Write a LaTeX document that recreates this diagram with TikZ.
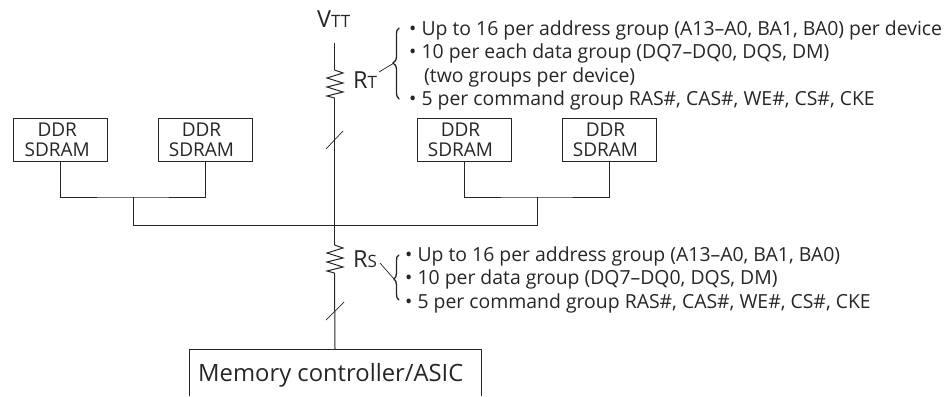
\documentclass[tikz,border=0pt]{standalone}
\usepackage{fontspec}
\setmainfont{Open Sans}
\usepackage{xcolor}
\usetikzlibrary{calc}
\tikzset{
  wire/.style={draw=black!85,line width=1pt},
  memline/.style={wire,line join=round},
  brace/.style={draw=black!85,line width=1.3pt,line cap=round},
  ddrbox/.style={draw=black!85,line width=1pt,minimum width=94pt,minimum height=43pt,inner sep=0pt,align=center,font=\fontsize{19}{20}\selectfont,text=black!85},
  noteline/.style={anchor=base west,inner sep=0pt,font=\fontsize{19.4}{21}\selectfont,text=black!85},
  reslabel/.style={anchor=base west,inner sep=0pt,font=\fontsize{23.5}{25}\selectfont,text=black!85}
}
\newcommand{\ddrtext}{DDR\hspace*{7pt}\\SDRAM\hspace*{7pt}}
\newcommand{\smallcap}[1]{{\fontsize{17}{18}\selectfont #1}}
\begin{document}
\begin{tikzpicture}[x=1pt,y=-1pt]
  \useasboundingbox (0,0) rectangle (952,396);
  \coordinate (VT) at (334.5,43);
  \coordinate (RTa) at (334.5,70);
  \coordinate (RTb) at (334.5,98);
  \coordinate (RSa) at (334.5,245);
  \coordinate (RSb) at (334.5,273);
  \coordinate (BL) at (133,225);
  \coordinate (BR) at (537,225);
  \coordinate (BM) at (334.5,225);
  \coordinate (JL) at (133,197);
  \coordinate (JR) at (537,197);
  \node[ddrbox] (S1) at (60.75,139.5) {\ddrtext};
  \node[ddrbox] (S2) at (205,139.5) {\ddrtext};
  \node[ddrbox] (S3) at (464,139.5) {\ddrtext};
  \node[ddrbox] (S4) at (609,139.5) {\ddrtext};
  \draw[wire] (S1.south) |- (JL) -| (S2.south);
  \draw[wire] (S3.south) |- (JR) -| (S4.south);
  \draw[wire] (JL) -- (BL) -- (BR) -- (JR);
  \draw[wire] (VT) -- (RTa);
  \draw[wire] (RTa) -- (343,73) -- (327,78) -- (343,83) -- (327,87) -- (343,92) -- (327,96) -- (RTb);
  \draw[wire] (RTb) -- (BM) -- (RSa);
  \draw[wire] (RSa) -- (343,248) -- (327,253) -- (343,258) -- (327,262) -- (343,267) -- (327,271) -- (RSb);
  \node[inner sep=0pt,minimum size=0pt] (MC) at (335,349) {};
  \draw[wire] (RSb) -- (MC);
  \draw[memline] (189,396) -- (189,349) -- (481,349) -- (481,396);
  \draw[wire,line width=0.7pt] (326,149) -- (343,131);
  \draw[wire,line width=0.7pt] (326,320) -- (344,302);
  % braces
  \draw[brace] (399,28) .. controls (396.5,29) and (396.5,32) .. (396.5,36) -- (396.5,56) .. controls (396.5,60) and (395,62) .. (393,63) .. controls (395,64) and (396.5,66) .. (396.5,70) -- (396.5,91) .. controls (396.5,95) and (397,98) .. (399,99);
  \draw[brace] (399,255) .. controls (396.5,256) and (396.5,258) .. (396.5,261) -- (396.5,273) .. controls (396.5,276) and (395.5,278) .. (394,279) .. controls (395.5,280) and (396.5,282) .. (396.5,285) -- (396.5,294) .. controls (396.5,297) and (397,299) .. (399,300);
  \draw[wire,line width=0.7pt] (379,72) -- (394,63);
  \draw[wire,line width=0.7pt] (380,263) -- (394,279);
  % labels
  \node[reslabel] (VTT) at (317,28) {V\smallcap{TT}};
  \node[reslabel] (RT) at (353,88) {R\smallcap{T}};
  \node[reslabel] (RS) at (353,267) {R\smallcap{S}};
  \node[noteline] (N1) at (409,36) {• Up to 16 per address group (A13–A0, BA1, BA0) per device};
  \node[noteline] (N2) at (409,59) {• 10 per each data group (DQ7–DQ0, DQS, DM)};
  \node[noteline] (N3) at (424,82) {(two groups per device)};
  \node[noteline] (N4) at (409,105.5) {• 5 per command group RAS\#, CAS\#, WE\#, CS\#, CKE};
  \node[noteline] (N5) at (405,261) {• Up to 16 per address group (A13–A0, BA1, BA0)};
  \node[noteline] (N6) at (405,284) {• 10 per data group (DQ7–DQ0, DQS, DM)};
  \node[noteline] (N7) at (405,308) {• 5 per command group RAS\#, CAS\#, WE\#, CS\#, CKE};
  \node[anchor=base west,inner sep=0pt,font=\fontsize{23.8}{26}\selectfont,text=black!85] (MT) at (198,381) {Memory controller/ASIC};
\end{tikzpicture}
\end{document}
